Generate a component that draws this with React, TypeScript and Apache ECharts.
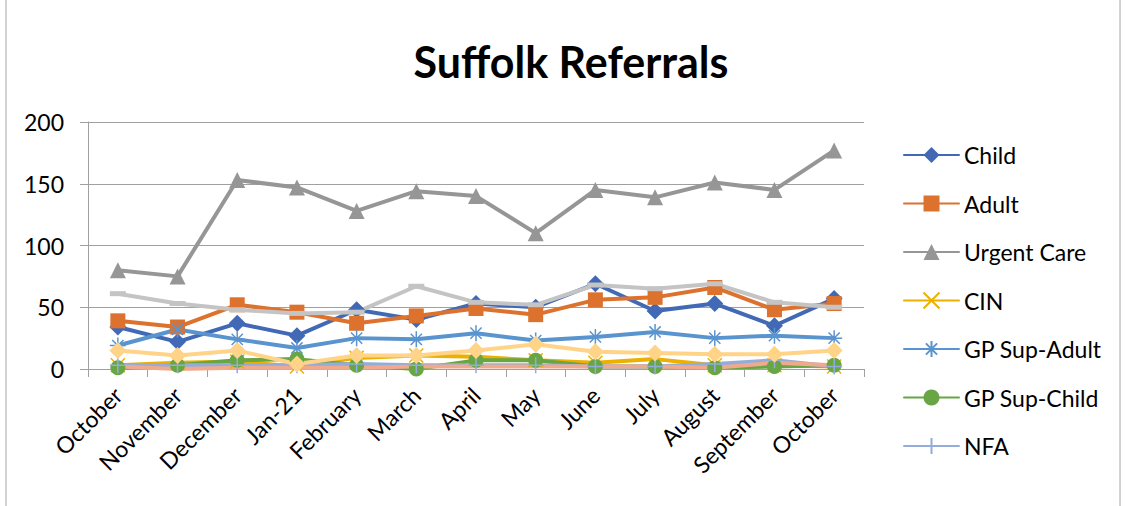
import React, { useEffect, useRef } from "react";
import * as echarts from "echarts";

const categories = ["October", "November", "December", "Jan-21", "February", "March", "April", "May", "June", "July", "August", "September", "October"];
const child = [34, 22, 37, 27, 48, 40, 53, 50, 69, 47, 53, 35, 57];
const adult = [39, 34, 52, 46, 37, 43, 49, 44, 56, 58, 66, 48, 53];
const urgentCare = [80, 75, 153, 147, 128, 144, 140, 110, 145, 139, 151, 145, 177];
const cin = [3, 5, 6, 2, 9, 11, 10, 7, 5, 8, 3, 3, 2];
const gpSupAdult = [19, 32, 24, 17, 25, 24, 29, 23, 26, 30, 25, 27, 25];
const gpSupChild = [1, 3, 7, 8, 3, 0, 7, 7, 2, 2, 1, 2, 3];
const nfa = [3, 3, 3, 3, 4, 3, 3, 3, 2, 2, 4, 7, 2];
const series8 = [2, 0, 1, 1, 1, 2, 2, 2, 2, 2, 1, 5, 3];
const series9 = [61, 53, 48, 45, 46, 67, 54, 52, 68, 65, 69, 54, 50];
const series10 = [15, 11, 15, 4, 11, 11, 15, 20, 14, 13, 12, 12, 15];
const yTicks = { min: 0, max: 200, interval: 50 };
const legendNames = ["Child", "Adult", "Urgent Care", "CIN", "GP Sup-Adult", "GP Sup-Child", "NFA"];

const FONT = "Lato";
const X_PATH = "path://M0,0L10,10M10,0L0,10";
const STAR_PATH = "path://M5,0L5,10M0,5L10,5M1.5,1.5L8.5,8.5M8.5,1.5L1.5,8.5";
const PLUS_PATH = "path://M5,0L5,10M0,5L10,5";

function mk(name: string, data: number[], color: string, symbol: string, symbolSize: any, stroke?: boolean) {
  return {
    name,
    type: "line",
    data,
    symbol,
    symbolSize,
    showSymbol: symbol !== "none",
    lineStyle: { color, width: 4, cap: "round", join: "round" },
    itemStyle: stroke
      ? { color, borderColor: color, borderWidth: 1.5 }
      : { color, borderWidth: 0 },
    emphasis: { disabled: true },
  };
}

export default function App() {
  const ref = useRef<HTMLDivElement>(null);
  useEffect(() => {
    if (!ref.current) return;
    const chart = echarts.init(ref.current, undefined, { renderer: "svg" });
    chart.setOption({
      animation: false,
      backgroundColor: "#ffffff",
      title: {
        text: "Suffolk Referrals",
        left: 566,
        top: 35,
        textAlign: "center",
        textStyle: { fontFamily: FONT, fontWeight: "bold", fontSize: 43, color: "#000" },
      },
      graphic: [
        {
          type: "rect",
          shape: { x: 6, y: -5, width: 1114, height: 520 },
          style: { fill: "none", stroke: "#A6A6A6", lineWidth: 1 },
          silent: true,
        },
      ],
      legend: {
        data: legendNames,
        orient: "vertical",
        left: 898,
        top: 138,
        itemWidth: 55,
        itemHeight: 20,
        itemGap: 24.5,
        textStyle: { fontFamily: FONT, fontSize: 23, color: "#000", lineHeight: 24, padding: [0, 0, 0, 0] },
        selectedMode: false,
      },
      grid: { left: 88, right: 265, top: 122, bottom: 137, containLabel: false },
      xAxis: {
        type: "category",
        data: categories,
        boundaryGap: true,
        axisLine: { show: true, lineStyle: { color: "#A0A0A0", width: 1 } },
        axisTick: { show: true, length: 8, alignWithLabel: false, lineStyle: { color: "#A0A0A0" } },
        axisLabel: { interval: 0, rotate: 45, margin: 22, fontFamily: FONT, fontSize: 23, color: "#000" },
      },
      yAxis: {
        type: "value",
        min: yTicks.min,
        max: yTicks.max,
        interval: yTicks.interval,
        axisLine: { show: true, lineStyle: { color: "#A0A0A0", width: 1 } },
        axisTick: { show: true, length: 8, lineStyle: { color: "#A0A0A0" } },
        splitLine: { show: true, lineStyle: { color: "#A0A0A0", width: 1 } },
        axisLabel: { margin: 24, fontFamily: FONT, fontSize: 23, color: "#000" },
      },
      series: [
        mk("Child", child, "#4169B5", "diamond", 17),
        mk("Adult", adult, "#DC722E", "rect", 15),
        mk("Urgent Care", urgentCare, "#969696", "triangle", 16),
        mk("CIN", cin, "#EBB000", X_PATH, 14, true),
        mk("GP Sup-Adult", gpSupAdult, "#5A94CE", STAR_PATH, 16, true),
        mk("GP Sup-Child", gpSupChild, "#68A544", "circle", 15),
        mk("NFA", nfa, "#94ACDB", PLUS_PATH, 16, true),
        mk("Series 8", series8, "#F0A98B", "none", 0),
        mk("Series 9", series9, "#C4C4C4", "rect", [16, 5]),
        mk("Series 10", series10, "#FFD488", "diamond", 17),
      ],
    });
    return () => chart.dispose();
  }, []);
  return (
    <div
      ref={ref}
      style={{ position: "absolute", left: 0, top: 0, width: 1129, height: 506 }}
    />
  );
}
